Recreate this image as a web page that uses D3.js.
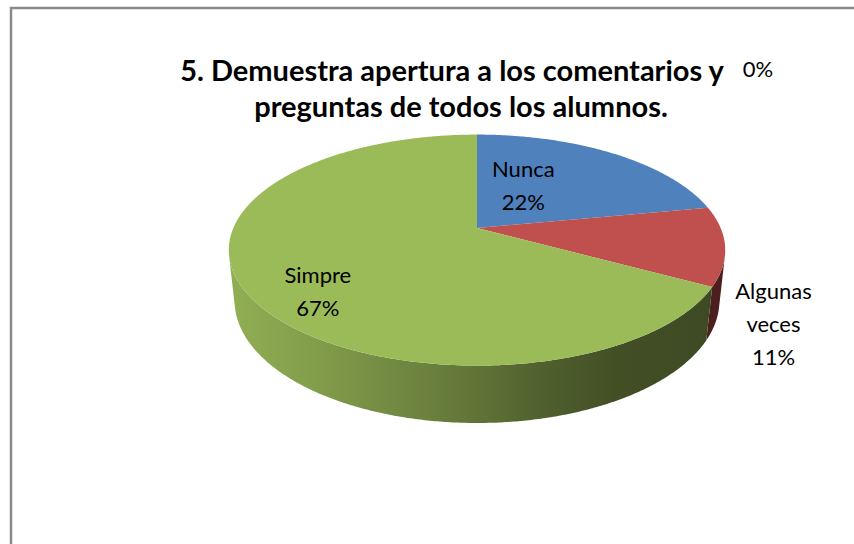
<!DOCTYPE html>
<html>
<head>
<meta charset="utf-8">
<script src="https://cdn.jsdelivr.net/npm/d3@7"></script>
<style>
  body { margin: 0; background: #fff; }
  text { font-family: Lato, "Open Sans", sans-serif; fill: #000; }
</style>
</head>
<body>
<svg id="chart" width="854" height="544"></svg>
<script>
// data, in Excel series order (the empty 4th point sits at 12 o'clock)
const categories = ['Nunca', 'Algunas veces', 'Simpre', ''];
const values = [22, 11, 67, 0];
const colors = ['#4f81bd', '#c0504d', '#9bbb59', '#8064a2'];
const titleLines = ['5. Demuestra apertura a los comentarios y', 'preguntas de todos los alumnos.'];

// label placement: radius on the disc + pixel nudge, and how the text wraps
const labelLayout = [
  { r: 0.5, nudge: [-26, -2], lines: ['Nunca'] },
  { r: 1.3, nudge: [-29, 73], lines: ['Algunas', 'veces'] },
  { r: 0.5, nudge: [-49, 35], lines: ['Simpre'] },
  { r: 1.1, nudge: [281, -57], lines: [] },
];

// perspective camera for the tilted disc
const cam = { cx: 477, cy: 228, f: 1133.6, dist: 4.653, tilt: Math.asin(0.4568), depth: 0.235 };
const cosT = Math.cos(cam.tilt);
const sinT = Math.sin(cam.tilt);

function project(theta, r, h) {
  const x = r * Math.sin(theta);
  const z = -r * Math.cos(theta);
  const v = z * sinT - h * cosT;
  const w = cam.dist - z * cosT - h * sinT;
  return [cam.cx + cam.f * x / w, cam.cy + cam.f * v / w];
}

function arcAngles(a, b) {
  const step = Math.PI / 360;
  const out = d3.range(a, b, step);
  out.push(b);
  return out;
}

const svg = d3.select('#chart');
const defs = svg.append('defs');

// chart area border
svg.append('rect')
  .attr('x', 11).attr('y', 8)
  .attr('width', 900).attr('height', 600)
  .attr('fill', 'none')
  .attr('stroke', '#8a8a8a')
  .attr('stroke-width', 2.5);

const total = d3.sum(values);
const arcs = d3.pie().sort(null).startAngle(0).endAngle(2 * Math.PI)(values);
const line = d3.line();

// side walls are only visible where they face the camera
const visA = Math.acos(-1 / (cam.dist * cosT));
const visB = 2 * Math.PI - visA;

const leftX = project(1.5 * Math.PI, 1, 0)[0];
const rightX = project(0.5 * Math.PI, 1, 0)[0];
const shade = [[0, 0.93], [0.15, 0.85], [0.35, 0.72], [0.5, 0.62], [0.65, 0.5], [0.78, 0.43], [1, 0.39]];

arcs.forEach((d, i) => {
  const base = d3.rgb(colors[i]);
  const g = defs.append('linearGradient')
    .attr('id', `wall-${i}`)
    .attr('gradientUnits', 'userSpaceOnUse')
    .attr('x1', leftX).attr('x2', rightX)
    .attr('y1', 0).attr('y2', 0);
  g.selectAll('stop')
    .data(shade)
    .enter()
    .append('stop')
    .attr('offset', (s) => s[0])
    .attr('stop-color', (s) => d3.rgb(base.r * s[1], base.g * s[1], base.b * s[1]).formatHex());
});

const walls = svg.append('g');
arcs.forEach((d, i) => {
  const a = Math.max(d.startAngle, visA);
  const b = Math.min(d.endAngle, visB);
  if (b <= a) return;
  const ang = arcAngles(a, b);
  const pts = ang.map((t) => project(t, 1, 0))
    .concat(ang.slice().reverse().map((t) => project(t, 1, -cam.depth)));
  walls.append('path')
    .attr('d', line(pts) + 'Z')
    .attr('fill', `url(#wall-${i})`);
});

const tops = svg.append('g');
arcs.forEach((d, i) => {
  if (d.endAngle - d.startAngle <= 0) return;
  const pts = [project(0, 0, 0)].concat(arcAngles(d.startAngle, d.endAngle).map((t) => project(t, 1, 0)));
  tops.append('path')
    .attr('d', line(pts) + 'Z')
    .attr('fill', colors[i]);
});

// data labels
const lineGap = 33;
const labels = svg.append('g').attr('font-size', 22);
arcs.forEach((d, i) => {
  const lay = labelLayout[i];
  const mid = (d.startAngle + d.endAngle) / 2;
  const p = project(mid, lay.r, 0);
  const x = p[0] + lay.nudge[0];
  const y = p[1] + lay.nudge[1];
  const rows = lay.lines.concat([`${Math.round((values[i] / total) * 100)}%`]);
  const t = labels.append('text')
    .attr('text-anchor', 'middle')
    .attr('x', x)
    .attr('y', y - ((rows.length - 1) * lineGap) / 2 + 7);
  t.selectAll('tspan')
    .data(rows)
    .enter()
    .append('tspan')
    .attr('x', x)
    .attr('dy', (r, k) => (k === 0 ? 0 : lineGap))
    .text((r) => r);
});

// title
svg.append('g')
  .attr('font-size', 29)
  .attr('font-weight', 'bold')
  .selectAll('text')
  .data(titleLines)
  .enter()
  .append('text')
  .attr('text-anchor', 'middle')
  .attr('x', (t, k) => (k === 0 ? 452 : 461))
  .attr('y', (t, k) => 81 + k * 36)
  .text((t) => t);
</script>
</body>
</html>
